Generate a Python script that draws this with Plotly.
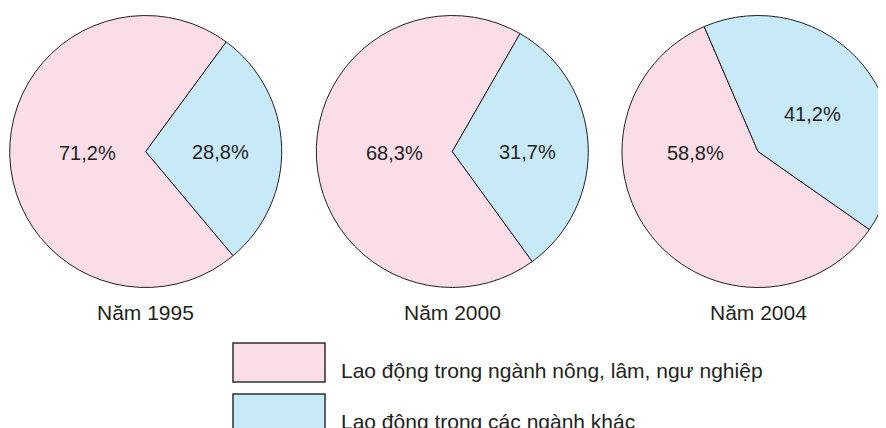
import plotly.graph_objects as go

# ---- data ----
categories = ["Lao động trong ngành nông, lâm, ngư nghiệp", "Lao động trong các ngành khác"]
years = ["Năm 1995", "Năm 2000", "Năm 2004"]
share_1995 = [71.2, 28.8]
share_2000 = [68.3, 31.7]
share_2004 = [58.8, 41.2]
series = [share_1995, share_2000, share_2004]

# ---- styling / layout ----
OFF = 8                      # page body margin of the browser
W, H = 902, 428              # figure size (visible part: 878 x 420)
colors = ["#FBDDE8", "#C7E9F8"]
edge = "#231F20"
font_family = "Liberation Sans, Arial, sans-serif"
rotations = [140, 144, 125]
R = 136
centers = [(145.7, 151.5), (452.3, 151.5), (758, 151.5)]   # in reference pixels
# label offsets (dx, dy) from pie centre, reference pixels
label_offsets = [[(-58, 1), (75, 0)], [(-57.5, 1), (75, 0)], [(-63, 1), (54, -38)]]


def fx(x):
    return (x - OFF) / W


def fy(y):
    return 1 - (y - OFF) / H


def fmt(v):
    return f"{v:.1f}".replace(".", ",") + "%"


fig = go.Figure()
annotations = []
for vals, rot, (cx, cy), offs, name in zip(series, rotations, centers, label_offsets, years):
    fig.add_trace(go.Pie(
        labels=categories,
        values=vals,
        sort=False,
        direction="clockwise",
        rotation=rot,
        marker=dict(colors=colors, line=dict(color=edge, width=1)),
        textinfo="none",
        hoverinfo="label+percent",
        showlegend=False,
        domain=dict(x=[fx(cx - R), fx(cx + R)], y=[fy(cy + R), fy(cy - R)]),
    ))
    for v, (dx, dy) in zip(vals, offs):
        annotations.append(dict(
            text=fmt(v), x=fx(cx + dx), y=fy(cy + dy), xref="paper", yref="paper",
            xanchor="center", yanchor="middle", showarrow=False,
            font=dict(family=font_family, size=20, color=edge),
        ))
    annotations.append(dict(
        text=name, x=fx(cx), y=fy(312), xref="paper", yref="paper",
        xanchor="center", yanchor="middle", showarrow=False,
        font=dict(family=font_family, size=21, color=edge),
    ))

shapes = []
legend_rows = [(343, 382), (394, 433)]
for cat, col, (t, b) in zip(categories, colors, legend_rows):
    shapes.append(dict(
        type="rect", xref="paper", yref="paper",
        x0=fx(233), x1=fx(325), y0=fy(b), y1=fy(t),
        fillcolor=col, line=dict(color="#2f2f2f", width=1.5),
    ))
    annotations.append(dict(
        text=cat, x=fx(339), y=fy(t + 27), xref="paper", yref="paper",
        xanchor="left", yanchor="middle", showarrow=False,
        font=dict(family=font_family, size=21, color=edge),
    ))

fig.update_layout(
    width=W, height=H,
    margin=dict(l=0, r=0, t=0, b=0),
    paper_bgcolor="white", plot_bgcolor="white",
    separators=",.",
    annotations=annotations,
    shapes=shapes,
)

fig.write_html("out.html")
